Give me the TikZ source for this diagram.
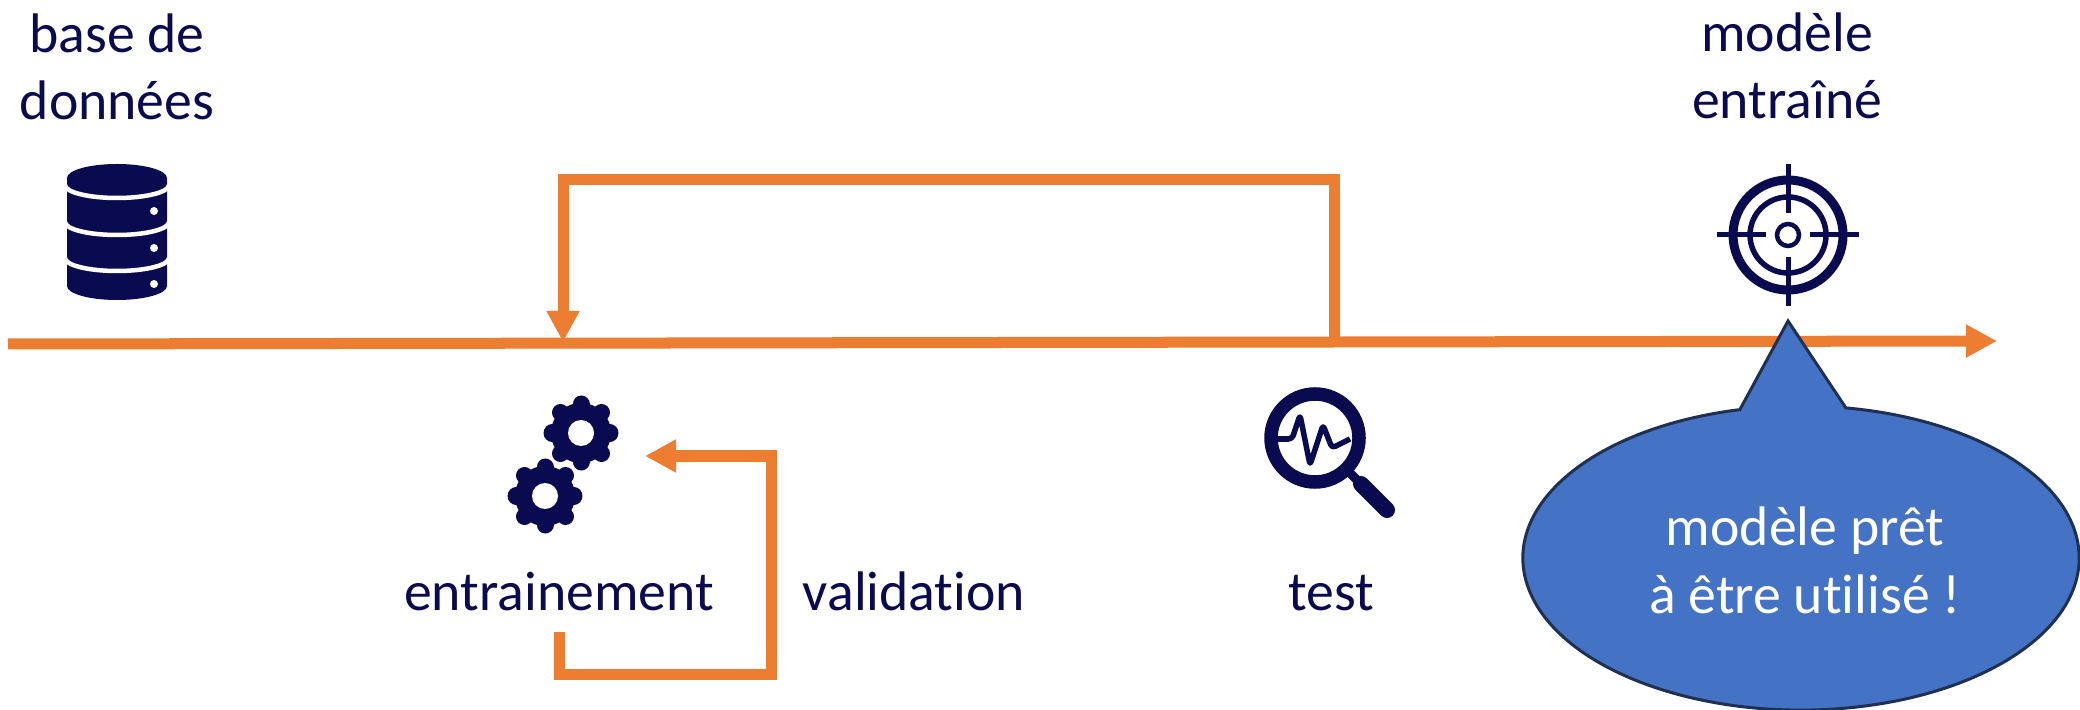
\documentclass[tikz,border=0pt]{standalone}
\usepackage{fontspec}
\setmainfont[Ligatures=NoCommon]{Carlito}
\usetikzlibrary{arrows.meta}
\usetikzlibrary{shapes.callouts}
\definecolor{navyicon}{HTML}{0A0A50}
\definecolor{flowcolor}{HTML}{ED7D31}
\definecolor{bubblecolor}{HTML}{4472C4}
\definecolor{bubbleedge}{HTML}{1F3050}
\def\lw{1.1mm}
\tikzset{
    caption/.style = {
        text=navyicon, align=center, font=\fontsize{15.85pt}{19.3pt}\selectfont, inner sep=0pt, anchor=base
    },
    flow/.style = {
        draw=flowcolor, line width=\lw, -{Triangle[width=3.1mm,length=3.1mm]}
    },
    bubble/.style = {
        ellipse callout, draw=bubbleedge, fill=bubblecolor, line width=0.3mm, inner sep=0pt,
        minimum width=5.56cm, minimum height=3.04cm, callout pointer arc=22
    },
    pics/Database/.style = {
        code = {
            \fill[navyicon] (-50,0) -- (-50,108) arc[start angle=180, end angle=0, x radius=50, y radius=14] -- (50,0) arc[start angle=0, end angle=-180, x radius=50, y radius=14] -- cycle;
            \foreach \y in {7, 44, 80}{
                \draw[white, line width=0.45mm] (-52,\y) arc[start angle=180, end angle=0, x radius=52, y radius=13];
                \fill[white] (37,\y+26) circle (4);
            }
    }},
    pics/Gear/.style = {
        code = {
            \fill[navyicon] (0,0) circle (30);
            \foreach \a in {0, 45, ..., 315}{
                \draw[navyicon, line width=1.7mm, line cap=round] (0,0) -- (\a:29);
            }
            \fill[white] (0,0) circle (13);
    }},
    pics/Loupe/.style = {
        code = {
            \draw[navyicon, line width=1.35mm] (0,0) circle (44);
            \draw[navyicon, line width=0.9mm] (34,34) -- (50,50);
            \draw[navyicon, line width=1.6mm, line cap=round] (46,46) -- (72,72);
            \draw[navyicon, line width=0.55mm, line join=round, rounded corners=1pt] (-37,1) -- (-23,1) -- (-15,-23) -- (-5,27) -- (8,-13) -- (17,10) -- (35,1);
    }},
    pics/Target/.style = {
        code = {
            \draw[navyicon, line width=0.9mm] (0,0) circle (55);
            \draw[navyicon, line width=0.55mm] (0,0) circle (38);
            \draw[navyicon, line width=0.45mm] (0,0) circle (11);
            \foreach \a in {0, 90, 180, 270}{
                \draw[navyicon, line width=0.5mm] (\a:22) -- (\a:71);
            }
    }}
}
\begin{document}
\begin{tikzpicture}[x=0.01cm, y=-0.01cm]
        \useasboundingbox (0,0) rectangle (2080,710);
        % Main axis
        \coordinate (axisstart) at (8,344);
        \coordinate (axisend) at (1997,341);
        \coordinate (loopstart) at (1334,342);
        \coordinate (loopend) at (563,342);
        \coordinate (loopcorner) at (1334,180);
        \draw[flow] (axisstart) -- (axisend);
        \draw[flow] (loopstart) -- (loopcorner) -| (loopend);
        % Icons
        \draw pic (database) at (117,178) {Database};
        \draw pic (gearup) at (581,433) {Gear};
        \draw pic (geardown) at (545,496) {Gear};
        \draw pic (loupe) at (1315,438) {Loupe};
        \draw pic (target) at (1788,235) {Target};
        % Labels
        \node[caption] (basetext) at (117,120) {base de\\données};
        \node[caption] (modeletext) at (1787,119) {modèle\\entraîné};
        \node[caption] (traintext) at (559,610) {entrainement};
        \node[caption] (validtext) at (914,610) {validation};
        \node[caption] (testtext) at (1331,610) {test};
        % Validation loop
        \coordinate (valstart) at (559,632);
        \coordinate (valcorner) at (771,674);
        \coordinate (valend) at (645,456);
        \draw[flow] (valstart) |- (valcorner) |- (valend);
        % Callout
        \node[bubble, callout absolute pointer={(1788,321)}] (bubblenode) at (1801,558) {};
        \node[caption, text=white] (bubbletext) at (1805,613) {modèle prêt\\à être utilisé !};
\end{tikzpicture}
\end{document}
